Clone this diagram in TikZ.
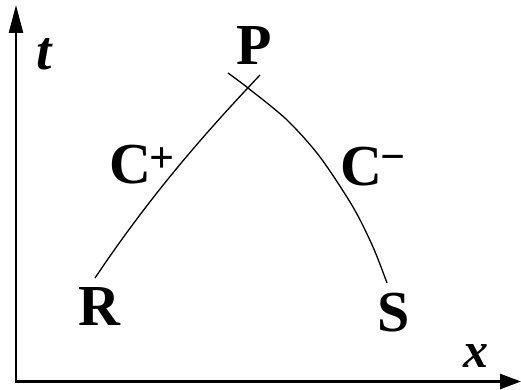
\documentclass[tikz,border=0pt]{standalone}
\usepackage{fontspec}
\setmainfont{Liberation Serif}
\usetikzlibrary{arrows.meta}
\begin{document}
\begin{tikzpicture}[x=1pt,y=-1pt,
  lbl/.style={font=\fontsize{58}{58}\selectfont\bfseries, inner sep=0pt, anchor=base},
  suplbl/.style={font=\fontsize{44}{44}\selectfont\bfseries, inner sep=0pt, anchor=center},
  axlbl/.style={font=\fontsize{55}{55}\selectfont\bfseries\itshape, inner sep=0pt, anchor=base},
  axis/.style={line width=2.5pt, line join=miter,
    {Triangle[length=28pt,width=14pt]}-{Triangle[length=21pt,width=15pt]}},
  charac/.style={line width=1.3pt}]
\useasboundingbox (0,0) rectangle (521,390);
\coordinate (tend) at (16,5);
\coordinate (O) at (16,381.5);
\coordinate (xend) at (521,381.5);
\draw[axis] (tend) -- (O) -- (xend);
% characteristics
\coordinate (Rend) at (95,278);
\coordinate (Ptopp) at (260,75);
\coordinate (Ptopm) at (228,73);
\coordinate (Send) at (387,283);
\draw[charac] (Rend) .. controls (152,193) and (207,131) .. (Ptopp);
\draw[charac] plot[smooth] coordinates {(228,73) (248,88) (287,120) (320,157) (353,207) (373,247) (387,283)};
% labels
\node[axlbl] (t) at (44,70) {t};
\node[axlbl, font=\fontsize{50}{50}\selectfont\bfseries\itshape] (x) at (476,367) {x};
\node[lbl] (P) at (254,65) {P};
\node[lbl] (R) at (99,325) {R};
\node[lbl] (S) at (393.5,331) {S};
\node[lbl] (Cp) at (130,183) {C};
\node[suplbl] (plus) at (162,160) {+};
\node[lbl] (Cm) at (361,185) {C};
\node[suplbl] (minus) at (393,163) {−};
\end{tikzpicture}
\end{document}
